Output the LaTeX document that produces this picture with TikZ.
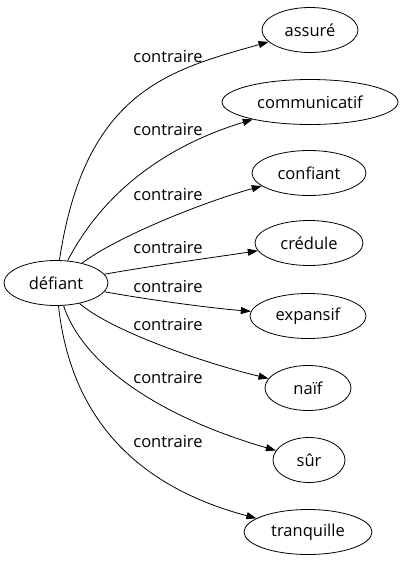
\documentclass[tikz,border=0pt]{standalone}
\usepackage{fontspec}
\setmainfont{Open Sans}
\usetikzlibrary{arrows.meta,shapes.geometric}

\tikzset{
  sense/.style={ellipse,draw,line width=0.8pt,inner sep=0pt,minimum height=45pt,font=\fontsize{16.5}{19}\selectfont},
  rel/.style={font=\fontsize{16.5}{19}\selectfont,inner sep=0pt},
  link/.style={line width=0.8pt,-{Triangle[length=10pt,width=7pt]}}
}

\begin{document}
\begin{tikzpicture}[x=1pt,y=-1pt]
\useasboundingbox (0,0) rectangle (400,563);
% words
\node[sense,minimum width=104pt] (def) at (56,283) {défiant};
\node[sense,minimum width=96pt] (assure) at (310,30) {assuré};
\node[sense,minimum width=176pt] (communicatif) at (310,102) {communicatif};
\node[sense,minimum width=114pt] (confiant) at (309,173) {confiant};
\node[sense,minimum width=108pt] (credule) at (309,243) {crédule};
\node[sense,minimum width=116pt] (expansif) at (308,316) {expansif};
\node[sense,minimum width=86pt] (naif) at (308,388) {naïf};
\node[sense,minimum width=72pt] (sur) at (309,460) {sûr};
\node[sense,minimum width=128pt] (tranquille) at (308,532) {tranquille};
% labels
\node[rel] (r1) at (168,57) {contraire};
\node[rel] (r2) at (168,130) {contraire};
\node[rel] (r3) at (168,195) {contraire};
\node[rel] (r4) at (168,248) {contraire};
\node[rel] (r5) at (168,287) {contraire};
\node[rel] (r6) at (168,325) {contraire};
\node[rel] (r7) at (168,378) {contraire};
\node[rel] (r8) at (168,442) {contraire};
% edges
\draw[link] (def) .. controls (85,90) and (170,70) .. (assure);
\draw[link] (def) .. controls (106,187) and (172,144) .. (communicatif);
\draw[link] (def) .. controls (115,238) and (200,203) .. (confiant);
\draw[link] (def) .. controls (150,266) and (210,258) .. (credule);
\draw[link] (def) .. controls (150,300) and (210,308) .. (expansif);
\draw[link] (def) .. controls (110,330) and (200,362) .. (naif);
\draw[link] (def) .. controls (85,370) and (170,420) .. (sur);
\draw[link] (def) .. controls (72,430) and (150,490) .. (tranquille);
\end{tikzpicture}
\end{document}
